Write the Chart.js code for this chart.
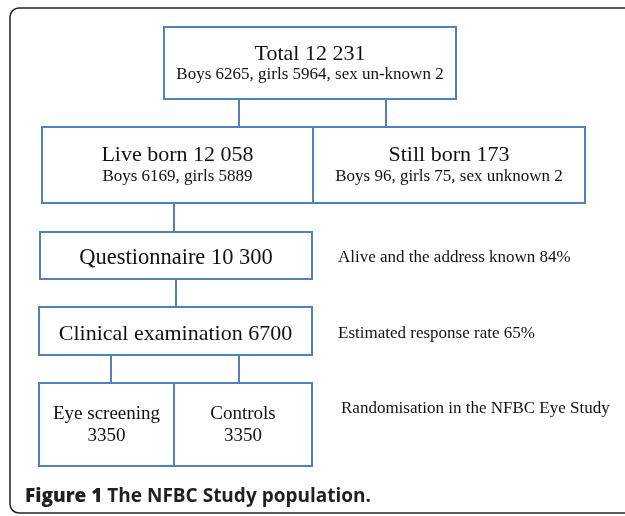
<!DOCTYPE html>
<html>
<head>
<meta charset="utf-8">
<script src="https://cdn.jsdelivr.net/npm/chart.js@4.4.1/dist/chart.umd.min.js"></script>
<style>
  html, body { margin: 0; padding: 0; background: #fff; }
  #flow { display: block; }
</style>
</head>
<body>
<canvas id="flow" width="625" height="516"></canvas>
<script>
// flow chart content
const nodeTitles = ["Total 12 231", "Live born 12 058", "Still born 173", "Questionnaire 10 300", "Clinical examination 6700", "Eye screening", "Controls"];
const nodeDetails = ["Boys 6265, girls 5964, sex un-known 2", "Boys 6169, girls 5889", "Boys 96, girls 75, sex unknown 2", "", "", "3350", "3350"];
const stepNotes = ["Alive and the address known 84%", "Estimated response rate 65%", "Randomisation in the NFBC Eye Study"];
const captionBold = "Figure 1";
const captionText = " The NFBC Study population.";
// parent -> child links (index into nodeTitles)
const links = [[0, 1], [0, 2], [1, 3], [3, 4], [4, 5], [4, 6]];

// layout, in page units (x 0..625, y 0..516 top-down)
const boxes = [
  { x0: 164, y0: 27, x1: 456, y1: 99, ty: 60, dy: 79, ts: 22, ds: 17 },
  { x0: 42, y0: 127, x1: 313, y1: 203, ty: 161, dy: 181, ts: 22, ds: 17 },
  { x0: 313, y0: 127, x1: 585, y1: 203, ty: 161, dy: 181, ts: 22, ds: 17 },
  { x0: 40, y0: 232, x1: 312, y1: 279, ty: 264, dy: 0, ts: 22.5, ds: 17 },
  { x0: 39, y0: 307, x1: 312, y1: 355, ty: 340, dy: 0, ts: 22, ds: 17 },
  { x0: 39, y0: 383, x1: 174, y1: 466, ty: 419, dy: 441, ts: 19, ds: 19 },
  { x0: 174, y0: 383, x1: 312, y1: 466, ty: 419, dy: 441, ts: 19, ds: 19 },
];
const linkX = [239, 386, 174, 176, 111, 239];
const notePos = [[338, 262], [338, 338], [341, 413]];

const SERIF = '"Liberation Serif", "Times New Roman", serif';
const BOX_COLOR = "#4f81bd";

const flowPlugin = {
  id: "flow",
  beforeDraw(chart) {
    const ctx = chart.ctx;
    const xs = chart.scales.x;
    const ys = chart.scales.y;
    ctx.save();
    ctx.fillStyle = "#fff";
    ctx.fillRect(0, 0, chart.width, chart.height);
    // outer frame
    ctx.strokeStyle = "#222";
    ctx.lineWidth = 1.5;
    ctx.beginPath();
    ctx.roundRect(xs.getPixelForValue(10), ys.getPixelForValue(8), xs.getPixelForValue(640) - xs.getPixelForValue(10), ys.getPixelForValue(513) - ys.getPixelForValue(8), 9);
    ctx.stroke();
    ctx.restore();
  },
  afterDatasetsDraw(chart) {
    const ctx = chart.ctx;
    const xs = chart.scales.x;
    const ys = chart.scales.y;
    const px = (v) => xs.getPixelForValue(v);
    const py = (v) => ys.getPixelForValue(v);
    ctx.save();

    // connectors
    ctx.strokeStyle = BOX_COLOR;
    ctx.lineWidth = 2;
    links.forEach(([a, b], i) => {
      ctx.beginPath();
      ctx.moveTo(px(linkX[i]), py(boxes[a].y1));
      ctx.lineTo(px(linkX[i]), py(boxes[b].y0));
      ctx.stroke();
    });

    // boxes + text
    ctx.fillStyle = "#111";
    ctx.textAlign = "center";
    ctx.textBaseline = "alphabetic";
    boxes.forEach((b, i) => {
      ctx.strokeRect(px(b.x0), py(b.y0), px(b.x1) - px(b.x0), py(b.y1) - py(b.y0));
      const cx = (px(b.x0) + px(b.x1)) / 2;
      ctx.font = b.ts + "px " + SERIF;
      ctx.fillText(nodeTitles[i], cx, py(b.ty));
      if (nodeDetails[i]) {
        ctx.font = b.ds + "px " + SERIF;
        ctx.fillText(nodeDetails[i], cx, py(b.dy));
      }
    });

    // side notes
    ctx.textAlign = "left";
    ctx.font = "17px " + SERIF;
    stepNotes.forEach((t, i) => {
      ctx.fillText(t, px(notePos[i][0]), py(notePos[i][1]));
    });

    // caption
    ctx.fillStyle = "#231f20";
    ctx.font = '800 19px "Open Sans", sans-serif';
    ctx.fillText(captionBold, px(25), py(502));
    const w = ctx.measureText(captionBold).width;
    ctx.font = 'bold 19px "Open Sans", sans-serif';
    ctx.fillText(captionText, px(25) + w, py(502));
    ctx.restore();
  },
};

new Chart(document.getElementById("flow"), {
  type: "scatter",
  data: {
    datasets: [{
      data: boxes.map((b, i) => ({ x: (b.x0 + b.x1) / 2, y: (b.y0 + b.y1) / 2, label: nodeTitles[i] })),
      pointRadius: 0,
    }],
  },
  options: {
    responsive: false,
    animation: false,
    events: [],
    layout: { padding: 0 },
    plugins: { legend: { display: false }, tooltip: { enabled: false } },
    scales: {
      x: { type: "linear", min: 0, max: 625, display: false },
      y: { type: "linear", min: 0, max: 516, reverse: true, display: false },
    },
  },
  plugins: [flowPlugin],
});
</script>
</body>
</html>
